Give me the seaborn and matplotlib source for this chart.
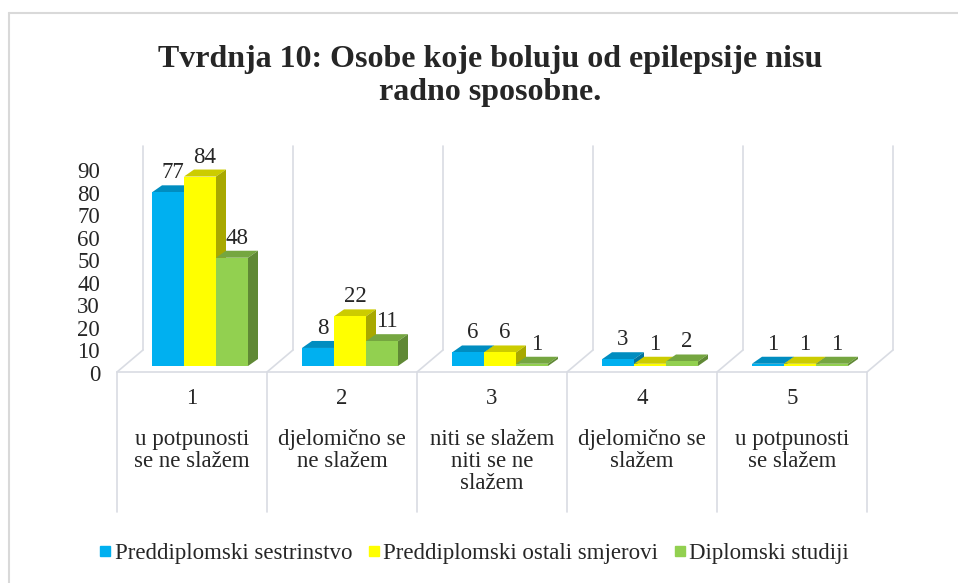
import matplotlib
matplotlib.use("Agg")
import matplotlib.pyplot as plt
import matplotlib.transforms as mtransforms
from matplotlib.patches import Polygon
from matplotlib.lines import Line2D
import seaborn as sns
import pandas as pd

# podaci
kategorije = ["1", "2", "3", "4", "5"]
opisi = ["u potpunosti\nse ne slažem", "djelomično se\nne slažem",
         "niti se slažem\nniti se ne\nslažem", "djelomično se\nslažem",
         "u potpunosti\nse slažem"]
skupine = ["Preddiplomski sestrinstvo", "Preddiplomski ostali smjerovi", "Diplomski studiji"]
sestrinstvo = [77, 8, 6, 3, 1]
ostali = [84, 22, 6, 1, 1]
diplomski = [48, 11, 1, 2, 1]
boje = ["#00B0F0", "#FFFF00", "#92D050"]

df = pd.DataFrame({
    "kategorija": kategorije * 3,
    "skupina": [s for s in skupine for _ in kategorije],
    "vrijednost": sestrinstvo + ostali + diplomski,
})

sns.set_style("white")
plt.rcParams["font.family"] = ["Liberation Serif", "DejaVu Serif"]
FS = 16.5

fig = plt.figure(figsize=(9.58, 5.83), dpi=100)
W, H = 958, 583
ax = fig.add_axes([125 / W, 1 - 366 / H, 750 / W, 203 / H])

sns.barplot(data=df, x="kategorija", y="vrijednost", hue="skupina", order=kategorije,
            hue_order=skupine, palette=boje, width=0.64, saturation=1,
            edgecolor="none", linewidth=0, legend=False, ax=ax, zorder=3)

ax.set_xlim(-0.5, 4.5)
ax.set_ylim(0, 90)
ax.set_yticks(range(0, 100, 10))
ax.set_xticks([])
ax.set_xlabel("")
ax.set_ylabel("")
ax.tick_params(axis="y", length=0, pad=18, labelsize=FS)
for s in ax.spines.values():
    s.set_visible(False)
pomak = mtransforms.ScaledTranslation(0, -0.07, fig.dpi_scale_trans)
for lbl in ax.get_yticklabels():
    lbl.set_transform(lbl.get_transform() + pomak)

# pikseli -> jedinice podataka
ux = 5 / 750
uy = 90 / 203
dx, dy = 10 * ux, 7 * uy

def potamni(c, f):
    r, g, b = matplotlib.colors.to_rgb(c)
    return (r * f, g * f, b * f)

# 3D lica stupaca i oznake vrijednosti
for p in ax.patches:
    x0, w, h = p.get_x(), p.get_width(), p.get_height()
    c = p.get_facecolor()
    vrh = Polygon([(x0, h), (x0 + w, h), (x0 + w + dx, h + dy), (x0 + dx, h + dy)],
                  closed=True, facecolor=potamni(c, 0.8), edgecolor="none",
                  zorder=2, clip_on=False)
    bok = Polygon([(x0 + w, 0), (x0 + w + dx, dy), (x0 + w + dx, h + dy), (x0 + w, h)],
                  closed=True, facecolor=potamni(c, 0.66), edgecolor="none",
                  zorder=2, clip_on=False)
    ax.add_patch(vrh)
    ax.add_patch(bok)
    ax.text(x0 + w / 2 + dx / 2, h + dy + 2 * uy, f"{int(h)}", ha="center", va="bottom",
            fontsize=FS, zorder=5, clip_on=False)

# mreža (stražnji zid) i tablica kategorija
siva = "#D9DCE3"
for k in range(6):
    b = -0.5 + k
    ax.plot([b + 18 * ux, b + 18 * ux], [16 * uy, 220 * uy], color=siva, lw=1.2,
            zorder=0, clip_on=False)
    ax.plot([b - 8 * ux, b + 18 * ux], [-6 * uy, 16 * uy], color=siva, lw=1.2,
            zorder=0, clip_on=False)
    ax.plot([b - 8 * ux, b - 8 * ux], [-6 * uy, -146 * uy], color=siva, lw=1.2,
            zorder=0, clip_on=False)
ax.plot([-0.5 - 8 * ux, 4.5 - 8 * ux], [-6 * uy, -6 * uy], color=siva, lw=1.2,
        zorder=0, clip_on=False)

for i, (k, o) in enumerate(zip(kategorije, opisi)):
    xc = i - 8 * ux
    ax.text(xc, -33 * uy, k, ha="center", va="center", fontsize=FS, clip_on=False)
    ax.text(xc, -63 * uy, o, ha="center", va="top", fontsize=FS, linespacing=1.07,
            clip_on=False)

# naslov
fig.text(490 / W, 1 - 76 / H, "Tvrdnja 10: Osobe koje boluju od epilepsije nisu\nradno sposobne.",
         ha="center", va="center", fontsize=23, fontweight="bold", linespacing=1.15)

# legenda
ruke = [Line2D([], [], marker="s", ls="", color=c, markersize=7) for c in boje]
fig.legend(ruke, skupine, loc="center", bbox_to_anchor=(473 / W, 1 - 553 / H), ncol=3,
           frameon=False, fontsize=FS, handletextpad=0.05, columnspacing=0.6,
           handlelength=0.7)

# okvir grafikona
fig.add_artist(Line2D([9 / W, 9 / W], [0, 1 - 13 / H], color="#D9D9D9", lw=1.5,
                      transform=fig.transFigure))
fig.add_artist(Line2D([9 / W, 1], [1 - 13 / H, 1 - 13 / H], color="#D9D9D9", lw=1.5,
                      transform=fig.transFigure))

fig.savefig("out.png", dpi=100)
